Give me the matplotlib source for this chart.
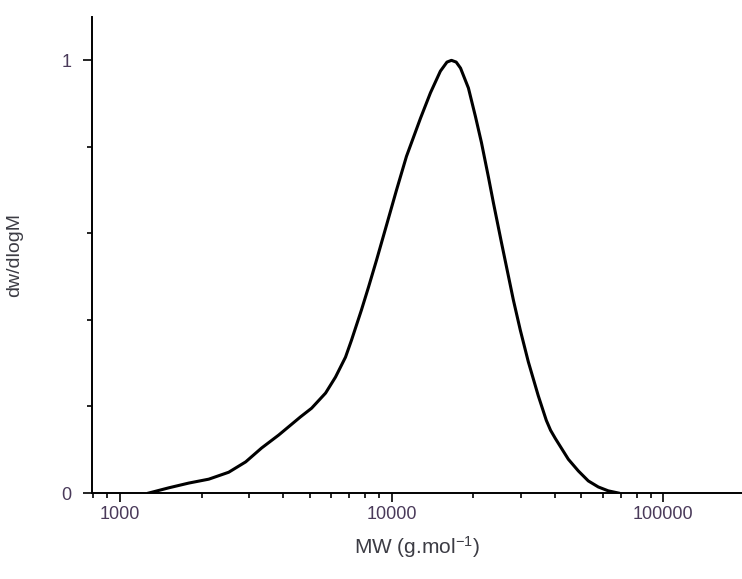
import matplotlib
matplotlib.use("Agg")
import matplotlib.pyplot as plt
import matplotlib.ticker as mticker
import numpy as np

plt.rcParams['font.family'] = ['Liberation Sans', 'DejaVu Sans']
plt.rcParams['mathtext.default'] = 'regular'

# molecular weight distribution
mw = [1279, 1514, 1794, 2125, 2516, 2906, 3325, 3844, 4624, 5080, 5719,
      6221, 6771, 7122, 7750, 8230, 8805, 9585, 10430, 11350, 12780, 13910,
      15130, 16000, 16620, 17300, 17950, 19190, 20370, 21430, 22740, 23730,
      25370, 26900, 28090, 29800, 31890, 34680, 37130, 38500, 40090, 44760,
      48720, 53000, 57690, 62790, 68390]
dw = [0.0, 0.012, 0.023, 0.032, 0.048, 0.072, 0.104, 0.134, 0.176,
      0.196, 0.231, 0.268, 0.314, 0.353, 0.423, 0.476, 0.538, 0.619, 0.700,
      0.778, 0.866, 0.925, 0.975, 0.996, 1.0, 0.996, 0.982, 0.936, 0.87,
      0.81, 0.73, 0.67, 0.58, 0.503, 0.446, 0.376, 0.303, 0.225, 0.168,
      0.145, 0.126, 0.078, 0.051, 0.028, 0.014, 0.005, 0.0]

x_ticks = [1000, 10000, 100000]
x_labels = ["1000", "10000", "100000"]
y_ticks = [0, 1]
y_labels = ["0", "1"]
y_minor = [0.2, 0.4, 0.6, 0.8]

tick_color = "#4a3a5a"
label_color = "#3c3c44"

fig = plt.figure(figsize=(7.42, 5.79), dpi=100)
ax = fig.add_axes([0.124, 0.1485, 0.876, 0.822])

ax.plot(mw, dw, color="black", lw=2.2, solid_joinstyle="round")

ax.set_xscale("log")
ax.set_xlim(790, 195000)
ax.set_ylim(0, 1.1)

ax.xaxis.set_major_locator(mticker.FixedLocator(x_ticks))
ax.xaxis.set_major_formatter(mticker.FixedFormatter(x_labels))
ax.xaxis.set_minor_locator(mticker.LogLocator(base=10, subs=np.arange(2, 10)))
ax.xaxis.set_minor_formatter(mticker.NullFormatter())

ax.yaxis.set_major_locator(mticker.FixedLocator(y_ticks))
ax.yaxis.set_major_formatter(mticker.FixedFormatter(y_labels))
ax.yaxis.set_minor_locator(mticker.FixedLocator(y_minor))

for s in ["top", "right"]:
    ax.spines[s].set_visible(False)
for s in ["left", "bottom"]:
    ax.spines[s].set_linewidth(1.4)

ax.tick_params(which="major", direction="out", length=6.5, width=1.2,
               labelsize=13, labelcolor=tick_color, pad=3)
ax.tick_params(which="minor", direction="out", length=3.6, width=1.2)
ax.tick_params(axis="y", which="major", pad=8)

ax.set_xlabel("MW (g.mol$^{-1}$)", fontsize=15, color=label_color, labelpad=8)
ax.set_ylabel("dw/dlogM", fontsize=14, color=label_color, labelpad=28)

fig.savefig("out.png", dpi=100)
